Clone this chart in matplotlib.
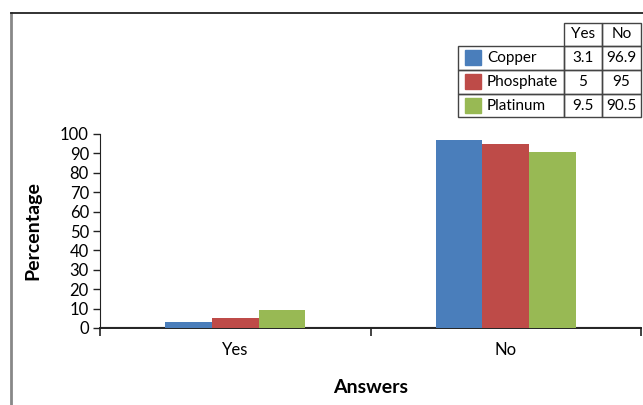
import numpy as np
import matplotlib
matplotlib.use("Agg")
from matplotlib import pyplot as plt
from matplotlib.patches import Rectangle
from matplotlib.lines import Line2D

answers = ["Yes", "No"]
materials = ["Copper", "Phosphate", "Platinum"]
copper = [3.1, 96.9]
phosphate = [5, 95]
platinum = [9.5, 90.5]
table_text = [["3.1", "96.9"], ["5", "95"], ["9.5", "90.5"]]

colors = ["#4a7ebb", "#be4b48", "#98b954"]

W, H = 643, 405
plt.rcParams['font.family'] = ['Lato', 'DejaVu Sans']

fig = plt.figure(figsize=(W / 100, H / 100), dpi=100)


def fx(px):
    return px / W


def fy(py):
    return 1 - py / H


ax = fig.add_axes([fx(100), fy(328), fx(641) - fx(100), fy(134) - fy(328)])

series = [copper, phosphate, platinum]
x = np.arange(len(answers))
bw = 0.173
for i, (vals, col) in enumerate(zip(series, colors)):
    ax.bar(x + (i - 1) * bw, vals, bw, color=col, zorder=3)

ax.set_xlim(-0.5, 1.5)
ax.set_ylim(0, 100)
ax.set_yticks(np.arange(0, 101, 10))
ax.set_xticks([-0.5, 0.5, 1.5])
ax.set_xticklabels([])
ax.set_xticks(x, minor=True)
ax.set_xticklabels(answers, minor=True)
ax.tick_params(axis="x", which="minor", length=0, pad=10, labelsize=12)
ax.tick_params(axis="x", which="major", length=6, width=1.2, direction="out", color="#222222")
ax.tick_params(axis="y", length=5, width=1.0, direction="out", labelsize=12, pad=3, color="#222222")
for s in ["top", "right"]:
    ax.spines[s].set_visible(False)
ax.spines["left"].set_color("#222222")
ax.spines["bottom"].set_color("#222222")
ax.spines["bottom"].set_linewidth(1.4)
ax.axhline(0.6, color="#bbbbbb", lw=1, zorder=2)

ax.set_xlabel("Answers", fontsize=14, fontweight="bold")
ax.set_ylabel("Percentage", fontsize=14, fontweight="bold")
ax.xaxis.set_label_coords(0.5, -(379 - 328) / 194)
ax.yaxis.set_label_coords(-(100 - 41) / 541, 0.5)

# chart frame
fig.add_artist(Line2D([fx(11), fx(11)], [fy(13), fy(405)], color="#888888", lw=2))
fig.add_artist(Line2D([fx(11), fx(643)], [fy(13), fy(13)], color="#222222", lw=1.3))

# data table legend
cols_px = [458, 564, 602, 641]
rows_px = [23, 46, 70, 94, 117]
lc = "#444444"
for j, lab in enumerate(answers):
    x0, x1 = cols_px[j + 1], cols_px[j + 2]
    fig.add_artist(Rectangle((fx(x0), fy(rows_px[1])), fx(x1) - fx(x0), fy(rows_px[0]) - fy(rows_px[1]),
                             fill=False, ec=lc, lw=1, transform=fig.transFigure))
    fig.text(fx((x0 + x1) / 2), fy((rows_px[0] + rows_px[1]) / 2), lab, ha="center", va="center", fontsize=11)
for i, name in enumerate(materials):
    y0, y1 = rows_px[i + 1], rows_px[i + 2]
    for j in range(3):
        x0, x1 = cols_px[j], cols_px[j + 1]
        fig.add_artist(Rectangle((fx(x0), fy(y1)), fx(x1) - fx(x0), fy(y0) - fy(y1),
                                 fill=False, ec=lc, lw=1, transform=fig.transFigure))
    fig.add_artist(Rectangle((fx(465), fy(y0 + 19)), fx(16), 15 / H, color=colors[i],
                             transform=fig.transFigure))
    fig.text(fx(487), fy((y0 + y1) / 2), name, ha="left", va="center", fontsize=11)
    for j in range(2):
        x0, x1 = cols_px[j + 1], cols_px[j + 2]
        fig.text(fx((x0 + x1) / 2), fy((y0 + y1) / 2), table_text[i][j], ha="center", va="center", fontsize=11)

fig.savefig("out.png", dpi=100)
